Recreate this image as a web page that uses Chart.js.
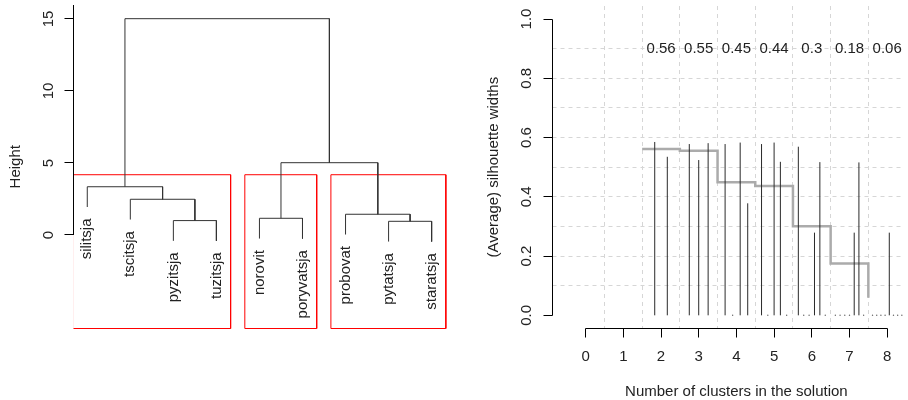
<!DOCTYPE html>
<html>
<head>
<meta charset="utf-8">
<script src="https://cdn.jsdelivr.net/npm/chart.js@4/dist/chart.umd.min.js"></script>
<style>
html,body{margin:0;padding:0;background:#ffffff;}
#wrap{position:relative;width:908px;height:400px;overflow:hidden;}
#dendro{position:absolute;left:0;top:0;}
#sil{position:absolute;left:460px;top:0;}
</style>
</head>
<body>
<div id="wrap">
<canvas id="dendro" width="460" height="400"></canvas>
<canvas id="sil" width="448" height="400"></canvas>
</div>
<script>
// ---------------- data: dendrogram ----------------
const leafLabels = ['silitsja','tscitsja','pyzitsja','tuzitsja','norovit','poryvatsja','probovat','pytatsja','staratsja'];
// hclust-style merges: negative = leaf position, positive = earlier merge step
const mergeLeft   = [-8, -3, -5, -7, -2, -1, 3, 6];
const mergeRight  = [-9, -4, -6,  1,  2,  5, 4, 7];
const mergeHeight = [0.95, 1.00, 1.16, 1.44, 2.48, 3.35, 5.02, 15.02];
const heightTicks = [0, 5, 10, 15];
const cutClusters = 3;

// ---------------- data: silhouette plot ----------------
const clusterCounts = [2, 3, 4, 5, 6, 7, 8];
const avgSilWidth   = [0.561, 0.555, 0.449, 0.436, 0.301, 0.175, 0.059];
const avgSilLabels  = ['0.56', '0.55', '0.45', '0.44', '0.3', '0.18', '0.06'];
const silK2 = [0.585, 0.535];
const silK3 = [0.578, 0.524, 0.581];
const silK4 = [0.578, 0, 0.583, 0.378];
const silK5 = [0.578, 0, 0.583, 0.518, 0];
const silK6 = [0.569, 0, 0, 0.279, 0.517, 0];
const silK7 = [0, 0, 0, 0, 0.279, 0.516, 0];
const silK8 = [0, 0, 0, 0, 0.279, 0, 0, 0];
const clusterTicks = [0, 1, 2, 3, 4, 5, 6, 7, 8];
const silTicks = [0, 0.2, 0.4, 0.6, 0.8, 1.0];
const silTickLabels = ['0.0', '0.2', '0.4', '0.6', '0.8', '1.0'];

const FONT = '15px "Liberation Sans", Arial, sans-serif';
const TEXT = '#222222';

// ---------------- dendrogram layout ----------------
const hang = 0.1 * (Math.max(...mergeHeight) - Math.min(...mergeHeight));
const nodeX = [];
const leafEnd = [];
const dendroPts = [];
mergeHeight.forEach((h, i) => {
  const a = mergeLeft[i], b = mergeRight[i];
  const xa = a < 0 ? -a : nodeX[a - 1];
  const xb = b < 0 ? -b : nodeX[b - 1];
  const ya = a < 0 ? h - hang : mergeHeight[a - 1];
  const yb = b < 0 ? h - hang : mergeHeight[b - 1];
  if (a < 0) leafEnd[-a - 1] = ya;
  if (b < 0) leafEnd[-b - 1] = yb;
  nodeX[i] = (xa + xb) / 2;
  dendroPts.push({x: xa, y: ya}, {x: xa, y: h}, {x: xb, y: h}, {x: xb, y: yb}, {x: xb, y: null});
});

// clusters for rect.hclust
function leavesOf(node) {
  if (node < 0) return [-node];
  return leavesOf(mergeLeft[node - 1]).concat(leavesOf(mergeRight[node - 1]));
}
const nM = mergeHeight.length;
let roots = [nM];
while (roots.length < cutClusters) {
  const top = roots.reduce((m, r) => (r > 0 && (m < 0 || r > m)) ? r : m, -1);
  roots = roots.filter(r => r !== top).concat([mergeLeft[top - 1], mergeRight[top - 1]]);
}
const clusterLeaves = roots.map(leavesOf).map(l => l.sort((p, q) => p - q)).sort((p, q) => p[0] - q[0]);
const sortedH = mergeHeight.slice().sort((p, q) => q - p);
const cutTop = (sortedH[cutClusters - 2] + sortedH[cutClusters - 1]) / 2;

const D_XMIN = 0.68, D_XMAX = 9.32, D_YMIN = -6.493, D_YMAX = 15.97;
const rectPts = [];
clusterLeaves.forEach(l => {
  const x0 = l[0] - 0.34, x1 = l[l.length - 1] + 0.33;
  rectPts.push({x: x0, y: D_YMIN}, {x: x0, y: cutTop}, {x: x1, y: cutTop}, {x: x1, y: D_YMIN}, {x: x0, y: D_YMIN}, {x: x0, y: null});
});

const dendroDecor = {
  id: 'dendroDecor',
  afterDraw(chart) {
    const {ctx, chartArea, scales: {x, y}} = chart;
    ctx.save();
    ctx.strokeStyle = '#000';
    ctx.lineWidth = 1;
    const ax = Math.floor(chartArea.left) + 0.5;
    ctx.beginPath();
    ctx.moveTo(ax, y.getPixelForValue(0));
    ctx.lineTo(ax, chartArea.top);
    heightTicks.forEach(t => {
      const py = Math.floor(y.getPixelForValue(t)) + 0.5;
      ctx.moveTo(ax, py);
      ctx.lineTo(ax - 9, py);
    });
    ctx.stroke();
    ctx.fillStyle = TEXT;
    ctx.font = FONT;
    heightTicks.forEach(t => {
      const py = y.getPixelForValue(t);
      ctx.save();
      ctx.translate(ax - 24.5, py);
      ctx.rotate(-Math.PI / 2);
      ctx.textAlign = 'center';
      ctx.textBaseline = 'middle';
      ctx.fillText(String(t), 0, 0);
      ctx.restore();
    });
    // leaf labels
    leafLabels.forEach((lab, i) => {
      const px = x.getPixelForValue(i + 1);
      const py = y.getPixelForValue(leafEnd[i]) + 11.5;
      ctx.save();
      ctx.translate(px, py);
      ctx.rotate(-Math.PI / 2);
      ctx.textAlign = 'right';
      ctx.textBaseline = 'middle';
      ctx.fillText(lab, 0, 0);
      ctx.restore();
    });
    // axis title
    ctx.save();
    ctx.translate(19.5, (chartArea.top + chartArea.bottom) / 2);
    ctx.rotate(-Math.PI / 2);
    ctx.textAlign = 'center';
    ctx.textBaseline = 'alphabetic';
    ctx.fillText('Height', 0, 0);
    ctx.restore();
    ctx.restore();
  }
};

new Chart(document.getElementById('dendro'), {
  type: 'line',
  data: {
    datasets: [
      {data: dendroPts, borderColor: '#333333', borderWidth: 1, pointRadius: 0, spanGaps: false, tension: 0, order: 1},
      {data: rectPts, borderColor: '#ff0000', borderWidth: 1, pointRadius: 0, spanGaps: false, tension: 0, order: 2,
       clip: {left: 0, top: 5, right: 5, bottom: 5}}
    ]
  },
  options: {
    responsive: false, animation: false, devicePixelRatio: 1,
    parsing: true,
    layout: {padding: {left: 73.5, right: 460 - 445.4, top: 5, bottom: 71.5}},
    plugins: {legend: {display: false}, tooltip: {enabled: false}},
    events: [],
    scales: {
      x: {type: 'linear', display: false, min: D_XMIN, max: D_XMAX},
      y: {type: 'linear', display: false, min: D_YMIN, max: D_YMAX}
    }
  },
  plugins: [dendroDecor]
});

// ---------------- silhouette plot ----------------
const silByK = [silK2, silK3, silK4, silK5, silK6, silK7, silK8];
const segPts = [];
const zeroPts = [];
clusterCounts.forEach((k, ki) => {
  silByK[ki].forEach((w, i) => {
    const xp = k - 0.5 + (i + 1) / (k + 1);
    if (w === 0) zeroPts.push({x: xp, y: 0});
    else segPts.push({x: xp, y: 0}, {x: xp, y: w}, {x: xp, y: null});
  });
});
const stepPts = clusterCounts.map((k, i) => ({x: k - 0.5, y: avgSilWidth[i]}));

const S_XMIN = -0.8787, S_XMAX = 8.446, S_YMIN = -0.0445, S_YMAX = 1.0439;

const silDecor = {
  id: 'silDecor',
  beforeDatasetsDraw(chart) {
    const {ctx, chartArea, scales: {x, y}} = chart;
    ctx.save();
    ctx.strokeStyle = '#d6d6d6';
    ctx.lineWidth = 1;
    ctx.setLineDash([4, 4]);
    ctx.beginPath();
    for (let i = 0; i < clusterTicks.length - 1; i++) {
      const v = (clusterTicks[i] + clusterTicks[i + 1]) / 2;
      const px = Math.floor(x.getPixelForValue(v)) + 0.5;
      ctx.moveTo(px, chartArea.top);
      ctx.lineTo(px, chartArea.bottom);
    }
    const hg = [];
    for (let i = 0; i < silTicks.length - 1; i++) {
      if (i > 0) hg.push(silTicks[i]);
      hg.push((silTicks[i] + silTicks[i + 1]) / 2);
    }
    hg.forEach(v => {
      const py = Math.floor(y.getPixelForValue(v)) + 0.5;
      ctx.moveTo(chartArea.left, py);
      ctx.lineTo(chartArea.right, py);
    });
    ctx.stroke();
    ctx.restore();
  },
  afterDraw(chart) {
    const {ctx, chartArea, scales: {x, y}} = chart;
    ctx.save();
    ctx.strokeStyle = '#000';
    ctx.lineWidth = 1;
    const ax = Math.floor(chartArea.left) + 0.5;
    const ay = Math.floor(chartArea.bottom) + 0.5;
    ctx.beginPath();
    ctx.moveTo(ax, Math.floor(y.getPixelForValue(silTicks[0])) + 0.5);
    ctx.lineTo(ax, Math.floor(y.getPixelForValue(silTicks[silTicks.length - 1])) + 0.5);
    silTicks.forEach(t => {
      const py = Math.floor(y.getPixelForValue(t)) + 0.5;
      ctx.moveTo(ax, py);
      ctx.lineTo(ax - 9, py);
    });
    ctx.moveTo(Math.floor(x.getPixelForValue(clusterTicks[0])) + 0.5, ay);
    ctx.lineTo(Math.floor(x.getPixelForValue(clusterTicks[clusterTicks.length - 1])) + 0.5, ay);
    clusterTicks.forEach(t => {
      const px = Math.floor(x.getPixelForValue(t)) + 0.5;
      ctx.moveTo(px, ay);
      ctx.lineTo(px, ay + 9);
    });
    ctx.stroke();

    ctx.fillStyle = TEXT;
    ctx.font = FONT;
    silTicks.forEach((t, i) => {
      ctx.save();
      ctx.translate(ax - 26, y.getPixelForValue(t));
      ctx.rotate(-Math.PI / 2);
      ctx.textAlign = 'center';
      ctx.textBaseline = 'middle';
      ctx.fillText(silTickLabels[i], 0, 0);
      ctx.restore();
    });
    ctx.textAlign = 'center';
    ctx.textBaseline = 'middle';
    clusterTicks.forEach(t => {
      ctx.fillText(String(t), x.getPixelForValue(t), 356.5);
    });
    clusterCounts.forEach((k, i) => {
      ctx.fillText(avgSilLabels[i], x.getPixelForValue(k), y.getPixelForValue(0.9));
    });
    ctx.textBaseline = 'alphabetic';
    ctx.fillText('Number of clusters in the solution', x.getPixelForValue(4), 396);
    ctx.save();
    ctx.translate(37.5, y.getPixelForValue(0.5));
    ctx.rotate(-Math.PI / 2);
    ctx.textAlign = 'center';
    ctx.textBaseline = 'alphabetic';
    ctx.fillText('(Average) silhouette widths', 0, 0);
    ctx.restore();
    ctx.restore();
  }
};

new Chart(document.getElementById('sil'), {
  type: 'line',
  data: {
    datasets: [
      {data: stepPts, borderColor: '#ababab', borderWidth: 2.5, pointRadius: 0, stepped: true, tension: 0, order: 3,
       borderCapStyle: 'butt'},
      {data: segPts, borderColor: '#2a2a2a', borderWidth: 1, pointRadius: 0, spanGaps: false, tension: 0, order: 1},
      {data: zeroPts, showLine: false, pointRadius: 0.7, pointBorderWidth: 0, pointBackgroundColor: '#666666', order: 2}
    ]
  },
  options: {
    responsive: false, animation: false, devicePixelRatio: 1,
    layout: {padding: {left: 92.5, right: 0, top: 6, bottom: 71.5}},
    plugins: {legend: {display: false}, tooltip: {enabled: false}},
    events: [],
    scales: {
      x: {type: 'linear', display: false, min: S_XMIN, max: S_XMAX},
      y: {type: 'linear', display: false, min: S_YMIN, max: S_YMAX}
    }
  },
  plugins: [silDecor]
});
</script>
</body>
</html>
